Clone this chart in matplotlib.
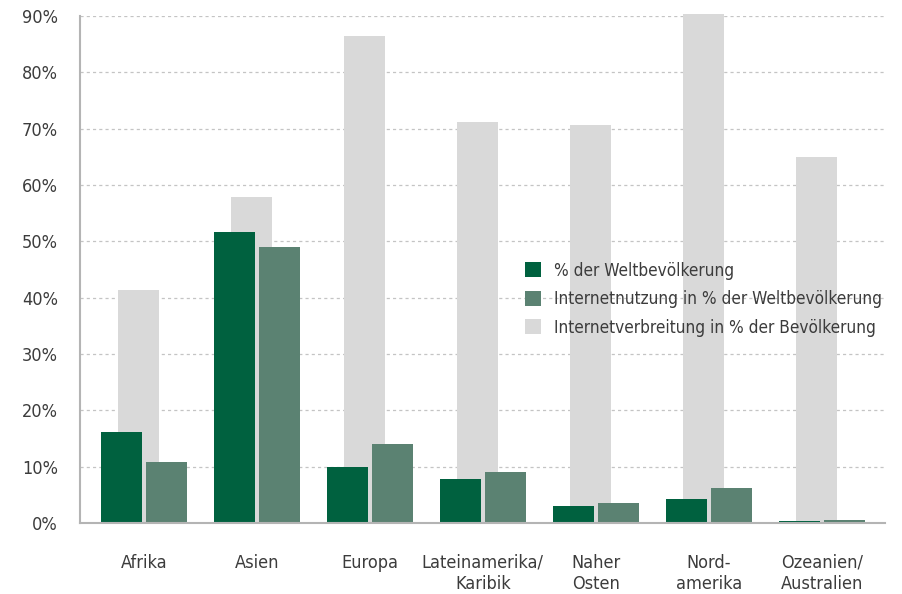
import matplotlib
matplotlib.use("Agg")
import matplotlib.pyplot as plt
import numpy as np
from matplotlib.ticker import FuncFormatter

regions = ["Afrika", "Asien", "Europa", "Lateinamerika/\nKaribik", "Naher\nOsten",
           "Nord-\namerika", "Ozeanien/\nAustralien"]
welt_anteil = [16.1, 51.6, 9.9, 7.8, 3.0, 4.2, 0.3]
internet_anteil = [10.8, 49.0, 14.0, 9.0, 3.5, 6.3, 0.5]
verbreitung = [41.3, 57.9, 86.4, 71.2, 70.6, 90.4, 65.0]
series_labels = ["% der Weltbevölkerung",
                 "Internetnutzung in % der Weltbevölkerung",
                 "Internetverbreitung in % der Bevölkerung"]
y_ticks = [0, 10, 20, 30, 40, 50, 60, 70, 80, 90]

c_dark = "#00613f"
c_mid = "#5b8272"
c_grey = "#d9d9d9"
c_text = "#3c3c3c"
plt.rcParams["font.family"] = ["DejaVu Sans"]
plt.rcParams["font.stretch"] = "condensed"

fig = plt.figure(figsize=(9.02, 5.94), dpi=100)
ax = fig.add_axes([80 / 902, 1 - 523 / 594, 805 / 902, 507 / 594])

x = np.arange(len(regions))
w = 0.363
gap = 0.035
ax.bar(x - 0.05, verbreitung, width=w, color=c_grey, zorder=2, clip_on=False,
       label=series_labels[2])
ax.bar(x - w / 2 - gap / 2, welt_anteil, width=w, color=c_dark, zorder=3,
       label=series_labels[0])
ax.bar(x + w / 2 + gap / 2, internet_anteil, width=w, color=c_mid, zorder=3,
       label=series_labels[1])

ax.set_xlim(-0.566, 6.56)
ax.set_ylim(0, 90)
ax.set_yticks(y_ticks)
ax.yaxis.set_major_formatter(FuncFormatter(lambda v, p: f"{v:.0f}%"))
ax.set_xticks(x)
ax.set_xticklabels(regions, fontsize=13, color=c_text, linespacing=1.25,
                   fontweight="medium")
for lab in ax.get_yticklabels():
    lab.set_fontsize(13)
    lab.set_color(c_text)
ax.tick_params(axis="both", length=0)
ax.tick_params(axis="x", pad=22)
ax.tick_params(axis="y", pad=16)

for v in y_ticks[1:]:
    ax.axhline(v, color="#c4c4c4", lw=0.9, ls=(0, (2.5, 2.5)), zorder=1)

for s in ("top", "right"):
    ax.spines[s].set_visible(False)
for s in ("left", "bottom"):
    ax.spines[s].set_color("#b4b4b4")
    ax.spines[s].set_linewidth(1.5)
    ax.spines[s].set_zorder(4)

handles, labels = ax.get_legend_handles_labels()
order = [1, 2, 0]
leg = ax.legend([handles[i] for i in order], [labels[i] for i in order],
                loc="upper left", bbox_to_anchor=(516 / 902, 1 - 253 / 594),
                bbox_transform=fig.transFigure, frameon=False,
                prop={"size": 12.3},
                handlelength=0.95, handleheight=0.95, handletextpad=0.75,
                labelspacing=0.62, borderpad=0)
for t in leg.get_texts():
    t.set_color(c_text)

fig.savefig("out.png", dpi=100)
